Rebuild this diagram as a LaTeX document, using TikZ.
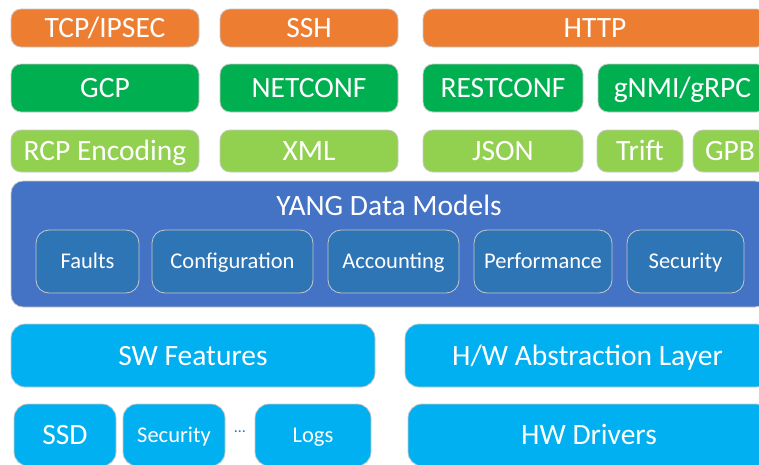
\documentclass[tikz,border=0pt]{standalone}
\usepackage{fontspec}
\setmainfont{Carlito}
\usepackage{xcolor}
\usetikzlibrary{positioning}

\definecolor{tporange}{HTML}{ED7D31}
\definecolor{tpgreen}{HTML}{00B050}
\definecolor{tplime}{HTML}{92D050}
\definecolor{yangblue}{HTML}{4472C4}
\definecolor{modblue}{HTML}{2E75B6}
\definecolor{swblue}{HTML}{00B0F0}
\definecolor{rim}{HTML}{C8C8C8}

\tikzset{
  layer/.style={anchor=north west, inner sep=0pt, outer sep=0pt, draw=rim,
    line width=0.8pt, rounded corners=10pt, text=white,
    text height=19pt, text depth=0pt,
    font=\fontsize{29.5}{31}\selectfont},
  small text/.style={text height=14.5pt, font=\fontsize{22.5}{24}\selectfont},
  transport/.style={layer, fill=tporange},
  protocol/.style={layer, fill=tpgreen},
  encoding/.style={layer, fill=tplime},
  model/.style={layer, fill=modblue, rounded corners=13pt, small text},
  feature/.style={layer, fill=swblue, rounded corners=14pt}
}

\begin{document}
\begin{tikzpicture}[x=1pt,y=-1pt]
  \useasboundingbox (0,0) rectangle (759,464);
  \clip (0,0) rectangle (759,464);
  % transport
  \node[transport, minimum width=188pt, minimum height=38pt] (tcp) at (11,9) {TCP/IPSEC};
  \node[transport, minimum width=178pt, minimum height=38pt] (ssh) at (220,9) {SSH};
  \node[transport, minimum width=344pt, minimum height=38pt] (http) at (423,9) {HTTP};
  % protocols
  \node[protocol, minimum width=188pt, minimum height=48pt] (gcp) at (11,64) {GCP};
  \node[protocol, minimum width=178pt, minimum height=48pt] (netconf) at (220,64) {NETCONF};
  \node[protocol, minimum width=160pt, minimum height=48pt] (restconf) at (423,64) {RESTCONF};
  \node[protocol, minimum width=169pt, minimum height=48pt] (gnmi) at (598,64) {gNMI/gRPC};
  % encodings
  \node[encoding, minimum width=188pt, minimum height=42pt] (rcp) at (11,130) {RCP Encoding};
  \node[encoding, minimum width=178pt, minimum height=42pt] (xml) at (220,130) {XML};
  \node[encoding, minimum width=160pt, minimum height=42pt] (json) at (423,130) {JSON};
  \node[encoding, minimum width=86pt, minimum height=42pt] (trift) at (597,130) {Trift};
  \node[encoding, minimum width=74pt, minimum height=42pt] (gpb) at (693,130) {GPB};
  % data models
  \node[layer, fill=yangblue, rounded corners=12pt, minimum width=756pt, minimum height=126pt] (yang) at (11,181) {};
  \node[text=white, font=\fontsize{29.5}{31}\selectfont] (yangtitle) at (389,205) {YANG Data Models};
  \node[model, minimum width=103pt, minimum height=63pt] (faults) at (36,230) {Faults};
  \node[model, minimum width=161pt, minimum height=63pt] (config) at (152,230) {Configuration};
  \node[model, minimum width=131pt, minimum height=63pt] (acct) at (328,230) {Accounting};
  \node[model, minimum width=138pt, minimum height=63pt] (perf) at (474,230) {Performance};
  \node[model, minimum width=117pt, minimum height=63pt] (secmod) at (627,230) {Security};
  % software / hardware
  \node[feature, minimum width=364pt, minimum height=63pt] (swfeat) at (11,324) {SW Features};
  \node[feature, minimum width=365pt, minimum height=63pt] (hwal) at (405,324) {H/W Abstraction Layer};
  \node[feature, minimum width=102pt, minimum height=62pt] (ssd) at (14,404) {SSD};
  \node[feature, small text, minimum width=102pt, minimum height=62pt] (swsec) at (123,404) {Security};
  \node[text=modblue, font=\fontsize{16}{18}\selectfont] (dots) at (240,432) {…};
  \node[feature, small text, minimum width=116pt, minimum height=62pt] (logs) at (255,404) {Logs};
  \node[feature, minimum width=362pt, minimum height=62pt] (hwdrv) at (408,404) {HW Drivers};
\end{tikzpicture}
\end{document}
